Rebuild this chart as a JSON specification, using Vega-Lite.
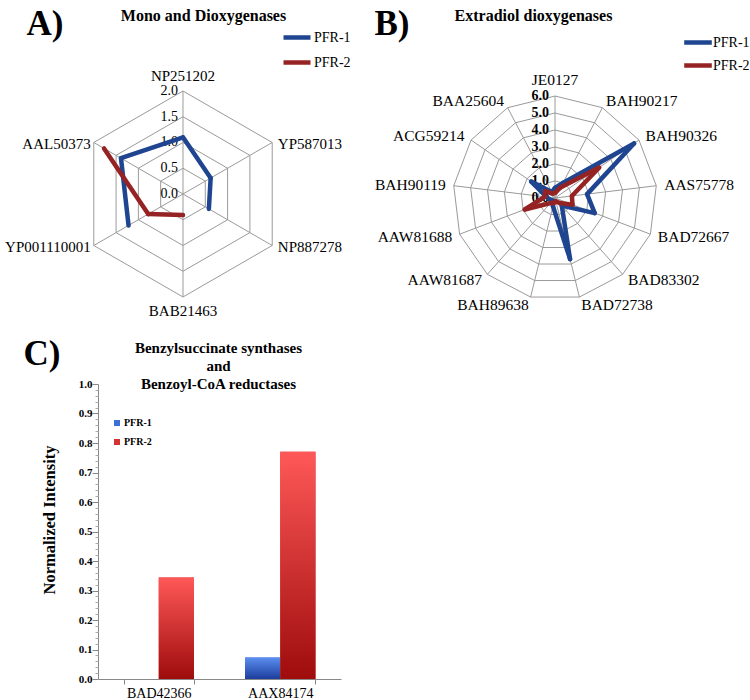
{
  "$schema": "https://vega.github.io/schema/vega-lite/v6.json",
  "padding": {"left": 5, "top": 6, "right": 0, "bottom": 0},
  "config": {"view": {"stroke": null}, "font": "Liberation Serif",
    "axis": {"labelFont": "Liberation Serif", "titleFont": "Liberation Serif"},
    "legend": {"labelFont": "Liberation Serif", "titleFont": "Liberation Serif"},
    "text": {"font": "Liberation Serif"}},
  "datasets": {
    "mono": [
      {"protein": "NP251202", "series": "PFR-1", "v": 1.1},
      {"protein": "YP587013", "series": "PFR-1", "v": 0.62},
      {"protein": "NP887278", "series": "PFR-1", "v": 0.58},
      {"protein": "BAB21463", "series": "PFR-1", "v": null},
      {"protein": "YP001110001", "series": "PFR-1", "v": 1.22},
      {"protein": "AAL50373", "series": "PFR-1", "v": 1.39},
      {"protein": "NP251202", "series": "PFR-2", "v": null},
      {"protein": "YP587013", "series": "PFR-2", "v": null},
      {"protein": "NP887278", "series": "PFR-2", "v": null},
      {"protein": "BAB21463", "series": "PFR-2", "v": 0.41},
      {"protein": "YP001110001", "series": "PFR-2", "v": 0.78},
      {"protein": "AAL50373", "series": "PFR-2", "v": 1.77}
    ],
    "extra": [
      {"protein": "JE0127", "series": "PFR-1", "v": 0.6},
      {"protein": "BAH90217", "series": "PFR-1", "v": 1.0},
      {"protein": "BAH90326", "series": "PFR-1", "v": 5.65},
      {"protein": "AAS75778", "series": "PFR-1", "v": 1.9},
      {"protein": "BAD72667", "series": "PFR-1", "v": 2.5},
      {"protein": "BAD83302", "series": "PFR-1", "v": 0.6},
      {"protein": "BAD72738", "series": "PFR-1", "v": 3.7},
      {"protein": "BAH89638", "series": "PFR-1", "v": 0.5},
      {"protein": "AAW81687", "series": "PFR-1", "v": 0.2},
      {"protein": "AAW81688", "series": "PFR-1", "v": 0.3},
      {"protein": "BAH90119", "series": "PFR-1", "v": 0.5},
      {"protein": "ACG59214", "series": "PFR-1", "v": 1.7},
      {"protein": "BAA25604", "series": "PFR-1", "v": 0.4},
      {"protein": "JE0127", "series": "PFR-2", "v": 0.3},
      {"protein": "BAH90217", "series": "PFR-2", "v": 0.7},
      {"protein": "BAH90326", "series": "PFR-2", "v": 3.15},
      {"protein": "AAS75778", "series": "PFR-2", "v": 1.0},
      {"protein": "BAD72667", "series": "PFR-2", "v": 1.1},
      {"protein": "BAD83302", "series": "PFR-2", "v": 0.4},
      {"protein": "BAD72738", "series": "PFR-2", "v": 0.2},
      {"protein": "BAH89638", "series": "PFR-2", "v": 0.3},
      {"protein": "AAW81687", "series": "PFR-2", "v": 0.4},
      {"protein": "AAW81688", "series": "PFR-2", "v": 1.9},
      {"protein": "BAH90119", "series": "PFR-2", "v": 0.6},
      {"protein": "ACG59214", "series": "PFR-2", "v": 0.7},
      {"protein": "BAA25604", "series": "PFR-2", "v": 0.3}
    ],
    "bars": [
      {"protein": "BAD42366", "series": "PFR-1", "v": 0},
      {"protein": "BAD42366", "series": "PFR-2", "v": 0.344},
      {"protein": "AAX84174", "series": "PFR-1", "v": 0.073},
      {"protein": "AAX84174", "series": "PFR-2", "v": 0.77}
    ]
  },
  "columns": 2,
  "bounds": "flush",
  "spacing": {"row": 68, "column": 0},
  "resolve": {"scale": {"color": "independent"}, "legend": {"color": "independent"}},
  "concat": [
    {
      "width": 273,
      "height": 285,
      "encoding": {
        "x": {"field": "x", "type": "quantitative", "scale": {"domain": [-1.65, 3.65], "nice": false, "zero": false},
          "axis": {"orient": "top", "domain": false, "ticks": false, "labels": false, "grid": false,
            "title": "Mono and Dioxygenases", "titleFontSize": 16, "titleFontWeight": "bold", "titleColor": "#000",
            "titleX": 105, "titleY": -11, "titleAlign": "center", "titleBaseline": "alphabetic"}},
        "y": {"field": "y", "type": "quantitative", "scale": {"domain": [-2.369, 3.165], "nice": false, "zero": false},
          "axis": {"orient": "left", "domain": false, "ticks": false, "labels": false, "grid": false,
            "title": "A)", "titleAngle": 0, "titleFontSize": 35, "titleFontWeight": "bold", "titleColor": "#000",
            "titleX": -72, "titleY": 3, "titleAlign": "left", "titleBaseline": "alphabetic"}}
      },
      "layer": [
        {
          "data": {"values": [{"rings": [0.5, 1, 1.5, 2], "ks": [0, 1, 2, 3, 4, 5]}]},
          "transform": [
            {"flatten": ["rings"], "as": ["ring"]},
            {"flatten": ["ks"], "as": ["k"]},
            {"calculate": "datum.ring*sin(datum.k*2*PI/6)", "as": "x"},
            {"calculate": "datum.ring*cos(datum.k*2*PI/6)", "as": "y"},
            {"calculate": "datum.ring*sin((datum.k+1)*2*PI/6)", "as": "xe"},
            {"calculate": "datum.ring*cos((datum.k+1)*2*PI/6)", "as": "ye"}
          ],
          "mark": {"type": "rule", "color": "#9a9a9a", "strokeWidth": 1},
          "encoding": {"x2": {"field": "xe"}, "y2": {"field": "ye"}}
        },
        {
          "data": {"values": [{"ks": [0, 1, 2, 3, 4, 5]}]},
          "transform": [
            {"flatten": ["ks"], "as": ["k"]},
            {"calculate": "2*sin(datum.k*2*PI/6)", "as": "x"},
            {"calculate": "2*cos(datum.k*2*PI/6)", "as": "y"}
          ],
          "mark": {"type": "rule", "color": "#9a9a9a", "strokeWidth": 1},
          "encoding": {"x2": {"datum": 0}, "y2": {"datum": 0}}
        },
        {
          "data": {"values": [{"rs": [0, 0.5, 1, 1.5, 2]}]},
          "transform": [
            {"flatten": ["rs"], "as": ["y"]},
            {"calculate": "0", "as": "x"}
          ],
          "mark": {"type": "text", "font": "Liberation Serif", "align": "right", "baseline": "middle", "dx": -5, "fontSize": 14, "color": "#000"},
          "encoding": {"text": {"field": "y", "type": "quantitative", "format": ".1f"}}
        },
        {
          "data": {"name": "mono"},
          "transform": [
            {"calculate": "indexof(['NP251202','YP587013','NP887278','BAB21463','YP001110001','AAL50373'], datum.protein)", "as": "k"},
            {"calculate": "datum.v == null ? null : datum.v*sin(datum.k*2*PI/6)", "as": "x"},
            {"calculate": "datum.v == null ? null : datum.v*cos(datum.k*2*PI/6)", "as": "y"},
            {"window": [
              {"op": "lead", "field": "x", "as": "nx"},
              {"op": "lead", "field": "y", "as": "ny"},
              {"op": "first_value", "field": "x", "as": "fx"},
              {"op": "first_value", "field": "y", "as": "fy"}
            ], "groupby": ["series"], "sort": [{"field": "k"}], "frame": [null, null]},
            {"calculate": "datum.k == 5 ? datum.fx : datum.nx", "as": "xe"},
            {"calculate": "datum.k == 5 ? datum.fy : datum.ny", "as": "ye"},
            {"filter": "isValid(datum.x) && isValid(datum.xe)"}
          ],
          "mark": {"type": "rule", "strokeWidth": 4.5, "strokeCap": "round"},
          "encoding": {
            "x2": {"field": "xe"},
            "y2": {"field": "ye"},
            "color": {"field": "series", "type": "nominal",
              "scale": {"domain": ["PFR-1", "PFR-2"], "range": ["#1f4591", "#962323"]},
              "legend": {"orient": "none", "legendX": 183, "legendY": -9.5, "title": null, "symbolType": "stroke",
                "symbolSize": 729, "symbolStrokeWidth": 4.5, "labelFont": "Liberation Serif", "labelFontSize": 14, "labelColor": "#000",
                "labelOffset": 1, "rowPadding": -5, "padding": 0}}
          }
        },
        {
          "data": {"name": "mono"},
          "transform": [
            {"filter": "datum.series == 'PFR-1'"},
            {"calculate": "indexof(['NP251202','YP587013','NP887278','BAB21463','YP001110001','AAL50373'], datum.protein)", "as": "k"},
            {"calculate": "sin(datum.k*2*PI/6)", "as": "s"},
            {"calculate": "cos(datum.k*2*PI/6)", "as": "c"},
            {"calculate": "abs(datum.s) < 0.01 ? 0 : 2*datum.s + (datum.s > 0 ? 0.11 : -0.06)", "as": "x"},
            {"calculate": "abs(datum.s) < 0.01 ? 2.14*datum.c : 2*datum.c - 0.03", "as": "y"}
          ],
          "layer": [
            {"transform": [{"filter": "datum.s > 0.01"}],
              "mark": {"type": "text", "font": "Liberation Serif", "align": "left", "baseline": "middle", "fontSize": 15, "color": "#000"},
              "encoding": {"text": {"field": "protein"}}},
            {"transform": [{"filter": "datum.s < -0.01"}],
              "mark": {"type": "text", "font": "Liberation Serif", "align": "right", "baseline": "middle", "fontSize": 15, "color": "#000"},
              "encoding": {"text": {"field": "protein"}}},
            {"transform": [{"filter": "abs(datum.s) <= 0.01 && datum.c > 0"}],
              "mark": {"type": "text", "font": "Liberation Serif", "align": "center", "baseline": "bottom", "fontSize": 15, "color": "#000"},
              "encoding": {"text": {"field": "protein"}}},
            {"transform": [{"filter": "abs(datum.s) <= 0.01 && datum.c < 0"}],
              "mark": {"type": "text", "font": "Liberation Serif", "align": "center", "baseline": "top", "fontSize": 15, "color": "#000"},
              "encoding": {"text": {"field": "protein"}}}
          ]
        }
      ]
    },
    {
      "width": 380,
      "height": 285,
      "encoding": {
        "x": {"field": "x", "type": "quantitative", "scale": {"domain": [-10.824, 11.529], "nice": false, "zero": false},
          "axis": {"orient": "top", "domain": false, "ticks": false, "labels": false, "grid": false,
            "title": "Extradiol dioxygenases", "titleFontSize": 16, "titleFontWeight": "bold", "titleColor": "#000",
            "titleX": 162, "titleY": -11, "titleAlign": "center", "titleBaseline": "alphabetic"}},
        "y": {"field": "y", "type": "quantitative", "scale": {"domain": [-6.941, 9.824], "nice": false, "zero": false},
          "axis": {"orient": "left", "domain": false, "ticks": false, "labels": false, "grid": false,
            "title": "B)", "titleAngle": 0, "titleFontSize": 35, "titleFontWeight": "bold", "titleColor": "#000",
            "titleX": 3, "titleY": 3, "titleAlign": "left", "titleBaseline": "alphabetic"}}
      },
      "layer": [
        {
          "data": {"values": [{"rings": [1, 2, 3, 4, 5, 6], "ks": [0, 1, 2, 3, 4, 5, 6, 7, 8, 9, 10, 11, 12]}]},
          "transform": [
            {"flatten": ["rings"], "as": ["ring"]},
            {"flatten": ["ks"], "as": ["k"]},
            {"calculate": "datum.ring*sin(datum.k*2*PI/13)", "as": "x"},
            {"calculate": "datum.ring*cos(datum.k*2*PI/13)", "as": "y"},
            {"calculate": "datum.ring*sin((datum.k+1)*2*PI/13)", "as": "xe"},
            {"calculate": "datum.ring*cos((datum.k+1)*2*PI/13)", "as": "ye"}
          ],
          "mark": {"type": "rule", "color": "#9a9a9a", "strokeWidth": 1},
          "encoding": {"x2": {"field": "xe"}, "y2": {"field": "ye"}}
        },
        {
          "data": {"values": [{"ks": [0, 1, 2, 3, 4, 5, 6, 7, 8, 9, 10, 11, 12]}]},
          "transform": [
            {"flatten": ["ks"], "as": ["k"]},
            {"calculate": "6*sin(datum.k*2*PI/13)", "as": "x"},
            {"calculate": "6*cos(datum.k*2*PI/13)", "as": "y"}
          ],
          "mark": {"type": "rule", "color": "#9a9a9a", "strokeWidth": 1},
          "encoding": {"x2": {"datum": 0}, "y2": {"datum": 0}}
        },
        {
          "data": {"values": [{"rs": [0, 1, 2, 3, 4, 5, 6]}]},
          "transform": [
            {"flatten": ["rs"], "as": ["y"]},
            {"calculate": "0", "as": "x"}
          ],
          "mark": {"type": "text", "font": "Liberation Serif", "align": "right", "baseline": "middle", "dx": -6, "fontSize": 14, "fontWeight": "bold", "color": "#000"},
          "encoding": {"text": {"field": "y", "type": "quantitative", "format": ".1f"}}
        },
        {
          "data": {"name": "extra"},
          "transform": [
            {"calculate": "indexof(['JE0127','BAH90217','BAH90326','AAS75778','BAD72667','BAD83302','BAD72738','BAH89638','AAW81687','AAW81688','BAH90119','ACG59214','BAA25604'], datum.protein)", "as": "k"},
            {"calculate": "datum.v == null ? null : datum.v*sin(datum.k*2*PI/13)", "as": "x"},
            {"calculate": "datum.v == null ? null : datum.v*cos(datum.k*2*PI/13)", "as": "y"},
            {"window": [
              {"op": "lead", "field": "x", "as": "nx"},
              {"op": "lead", "field": "y", "as": "ny"},
              {"op": "first_value", "field": "x", "as": "fx"},
              {"op": "first_value", "field": "y", "as": "fy"}
            ], "groupby": ["series"], "sort": [{"field": "k"}], "frame": [null, null]},
            {"calculate": "datum.k == 12 ? datum.fx : datum.nx", "as": "xe"},
            {"calculate": "datum.k == 12 ? datum.fy : datum.ny", "as": "ye"},
            {"filter": "isValid(datum.x) && isValid(datum.xe)"}
          ],
          "mark": {"type": "rule", "strokeWidth": 4.5, "strokeCap": "round"},
          "encoding": {
            "x2": {"field": "xe"},
            "y2": {"field": "ye"},
            "color": {"field": "series", "type": "nominal",
              "scale": {"domain": ["PFR-1", "PFR-2"], "range": ["#1f4591", "#962323"]},
              "legend": {"orient": "none", "legendX": 313, "legendY": -2.5, "title": null, "symbolType": "M-1.2,0H1.2",
                "symbolSize": 529, "symbolStrokeWidth": 4.5, "labelFont": "Liberation Serif", "labelFontSize": 14, "labelColor": "#000",
                "labelOffset": 1, "rowPadding": -5, "padding": 0}}
          }
        },
        {
          "data": {"name": "extra"},
          "transform": [
            {"filter": "datum.series == 'PFR-1'"},
            {"calculate": "indexof(['JE0127','BAH90217','BAH90326','AAS75778','BAD72667','BAD83302','BAD72738','BAH89638','AAW81687','AAW81688','BAH90119','ACG59214','BAA25604'], datum.protein)", "as": "k"},
            {"calculate": "sin(datum.k*2*PI/13)", "as": "s"},
            {"calculate": "cos(datum.k*2*PI/13)", "as": "c"},
            {"calculate": "6.47*datum.s", "as": "x"},
            {"calculate": "6.47*datum.c", "as": "y"}
          ],
          "layer": [
            {"transform": [{"filter": "datum.s > 0.01"}],
              "mark": {"type": "text", "font": "Liberation Serif", "align": "left", "baseline": "middle", "fontSize": 15.5, "color": "#000"},
              "encoding": {"text": {"field": "protein"}}},
            {"transform": [{"filter": "datum.s < -0.01"}],
              "mark": {"type": "text", "font": "Liberation Serif", "align": "right", "baseline": "middle", "fontSize": 15.5, "color": "#000"},
              "encoding": {"text": {"field": "protein"}}},
            {"transform": [{"filter": "abs(datum.s) <= 0.01"}],
              "mark": {"type": "text", "font": "Liberation Serif", "align": "center", "baseline": "bottom", "fontSize": 15.5, "color": "#000"},
              "encoding": {"text": {"field": "protein"}}}
          ]
        }
      ]
    },
    {
      "width": 243,
      "height": 295,
      "data": {"name": "bars"},
      "resolve": {"axis": {"x": "independent", "y": "independent"}},
      "layer": [
        {
          "mark": {"type": "bar"},
          "encoding": {
            "x": {"field": "protein", "type": "nominal", "sort": ["BAD42366", "AAX84174"],
              "scale": {"paddingInner": 0.42, "paddingOuter": 0.21},
              "axis": {"orient": "bottom", "labelAngle": 0, "labelFont": "Liberation Serif", "labelFontSize": 14, "labelColor": "#000", "tickBand": "extent",
                "tickSize": 5, "tickColor": "#888", "domainColor": "#888", "labelPadding": 2,
                "title": "C)", "titleFont": "Liberation Serif", "titleFontSize": 35, "titleFontWeight": "bold", "titleColor": "#000",
                "titleX": -75, "titleY": -315, "titleAlign": "left", "titleBaseline": "alphabetic"}},
            "xOffset": {"field": "series", "type": "nominal", "sort": ["PFR-1", "PFR-2"]},
            "y": {"field": "v", "type": "quantitative", "scale": {"domain": [0, 1], "nice": false},
              "axis": {"orient": "left", "values": [0, 0.1, 0.2, 0.3, 0.4, 0.5, 0.6, 0.7, 0.8, 0.9, 1.0], "format": ".1f",
                "labelFont": "Liberation Serif", "labelFontSize": 11, "labelFontWeight": "bold", "labelColor": "#000", "tickSize": 6, "tickColor": "#888",
                "domainColor": "#888", "grid": false, "labelPadding": 0,
                "title": "Normalized Intensity", "titleFont": "Liberation Serif", "titleFontSize": 16.5, "titleFontWeight": "bold", "titleColor": "#000",
                "titleX": -49, "titleY": 135.5, "titleAngle": -90, "titleAlign": "center", "titleBaseline": "middle"}},
            "color": {"field": "series", "type": "nominal",
              "scale": {"domain": ["PFR-1", "PFR-2"], "range": ["#3d6fd8", "#d63232"]},
              "legend": {"orient": "none", "legendX": 14, "legendY": 34, "title": null, "symbolType": "square",
                "symbolSize": 36, "labelFont": "Liberation Serif", "labelFontSize": 10, "labelFontWeight": "bold", "labelColor": "#000",
                "labelOffset": 2, "rowPadding": 9, "padding": 0}}
          }
        },
        {
          "transform": [{"filter": "datum.series == 'PFR-1'"}],
          "mark": {"type": "bar", "fill": {"gradient": "linear", "x1": 0, "y1": 0, "x2": 0, "y2": 1,
            "stops": [{"offset": 0, "color": "#5b8ff0"}, {"offset": 1, "color": "#1c3d9c"}]}},
          "encoding": {
            "x": {"field": "protein", "type": "nominal", "sort": ["BAD42366", "AAX84174"], "axis": null},
            "xOffset": {"field": "series", "type": "nominal", "sort": ["PFR-1", "PFR-2"]},
            "y": {"field": "v", "type": "quantitative", "axis": null}
          }
        },
        {
          "transform": [{"filter": "datum.series == 'PFR-2'"}],
          "mark": {"type": "bar", "fill": {"gradient": "linear", "x1": 0, "y1": 0, "x2": 0, "y2": 1,
            "stops": [{"offset": 0, "color": "#ff5858"}, {"offset": 1, "color": "#9e0c0c"}]}},
          "encoding": {
            "x": {"field": "protein", "type": "nominal", "sort": ["BAD42366", "AAX84174"], "axis": null},
            "xOffset": {"field": "series", "type": "nominal", "sort": ["PFR-1", "PFR-2"]},
            "y": {"field": "v", "type": "quantitative", "axis": null}
          }
        },
        {
          "mark": {"type": "bar", "opacity": 0},
          "encoding": {
            "x": {"field": "protein", "type": "nominal", "sort": ["BAD42366", "AAX84174"],
              "axis": {"orient": "top", "domain": false, "ticks": false, "labels": false,
                "title": ["Benzylsuccinate synthases", "and", "Benzoyl-CoA reductases"], "titleFont": "Liberation Serif", "titleFontSize": 15,
                "titleFontWeight": "bold", "titleColor": "#000", "titleLineHeight": 18,
                "titleX": 120, "titleY": -44, "titleAlign": "center", "titleBaseline": "top"}},
            "xOffset": {"field": "series", "type": "nominal", "sort": ["PFR-1", "PFR-2"]},
            "y": {"field": "v", "type": "quantitative",
              "axis": {"orient": "left", "values": [0.02, 0.04, 0.06, 0.08, 0.12, 0.14, 0.16, 0.18, 0.22, 0.24, 0.26, 0.28, 0.32, 0.34, 0.36, 0.38, 0.42, 0.44, 0.46, 0.48, 0.52, 0.54, 0.56, 0.58, 0.62, 0.64, 0.66, 0.68, 0.72, 0.74, 0.76, 0.78, 0.82, 0.84, 0.86, 0.88, 0.92, 0.94, 0.96, 0.98],
                "labels": false, "domain": false, "grid": false, "tickSize": 3, "tickColor": "#aaa", "title": null}}
          }
        }
      ]
    }
  ]
}
